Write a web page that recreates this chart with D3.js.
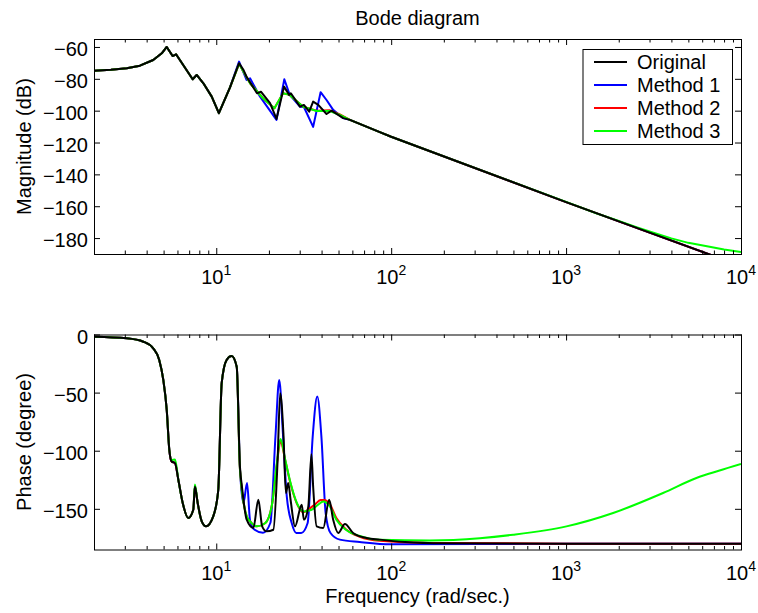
<!DOCTYPE html>
<html>
<head>
<meta charset="utf-8">
<script src="https://cdn.jsdelivr.net/npm/d3@7"></script>
<style>
body { margin: 0; background: #fff; }
text { font-family: "Liberation Sans", Arial, Helvetica, sans-serif; fill: #000; }
</style>
</head>
<body>
<svg id="chart" width="758" height="613"></svg>
<script>
// ---- data (frequency in rad/s, magnitude in dB, phase in degrees) ----
var seriesNames = ["Original", "Method 1", "Method 2", "Method 3"];
var seriesColors = ["#000000", "#0000ff", "#ff0000", "#00ff00"];

// low-frequency magnitude, the same for all four models
var magLowW = [2, 2.5, 3.08, 3.66, 4.36, 4.88, 5.21, 5.63, 5.89, 7.33, 7.73, 8.44, 9.42, 10.35, 11.97];
var magLow  = [-74.9, -74.3, -73.4, -71.75, -68.2, -64.0, -60.0, -65.7, -64.6, -80.3, -77.6, -82.8, -91.2, -101.6, -85.5];

var magOrigW = [13.5, 14.3, 14.9, 17.1, 18.0, 20.3, 22.1, 24.4, 26.1, 26.7, 30.1, 31.7, 34.0, 35.8, 38.3, 42.7, 45.6, 53.2, 58.1, 86.1, 100, 1000, 10000];
var magOrig  = [-70.2, -74.4, -78.7, -89.1, -88.1, -95.3, -105.2, -84.9, -90.1, -89.1, -97.5, -96.4, -100.6, -94.3, -96.4, -102.1, -100.0, -104.7, -105.8, -113.5, -116.4, -157.4, -197.5];

var magM1W = [13.5, 14.9, 15.6, 17.8, 22.1, 24.5, 26.3, 30.1, 31.7, 35.8, 39.5, 42.7, 46.6, 53.2, 58.1, 86.1, 100, 1000, 10000];
var magM1  = [-69.2, -80.7, -79.7, -91.2, -105.8, -80.3, -90.1, -97.5, -97.7, -110.2, -88.4, -93.3, -99.5, -104.7, -105.8, -113.5, -116.4, -157.4, -197.5];

var magM2W = [13.5, 15.6, 18.5, 21.5, 24.1, 26.3, 31.4, 37.5, 44.6, 50.9, 58.1, 86.1, 100, 1000, 10000];
var magM2  = [-70.6, -82.8, -92.2, -98.5, -89.1, -90.1, -97.5, -100.0, -99.8, -102.3, -105.8, -113.5, -116.4, -157.4, -197.5];

var magM3W = [13.5, 15.6, 18.5, 21.5, 24.1, 26.3, 31.4, 37.5, 44.6, 50.9, 58.1, 86.1, 100, 1000, 1500, 2000, 2500, 3000, 4000, 5000, 6500, 8000, 10000];
var magM3  = [-70.6, -82.8, -92.2, -98.5, -89.1, -90.1, -97.5, -100.2, -100.2, -102.7, -105.8, -113.5, -116.4, -157.3, -164.6, -169.2, -173.0, -175.9, -180.2, -183.0, -185.3, -187.2, -188.8];

// low-frequency phase (Original, Method 1, Method 2) and Method 3
var phLowW  = [2, 3.08, 3.83, 4.36, 4.72, 4.98, 5.21, 5.39, 5.56, 5.81, 6.07, 6.43, 6.92, 7.39, 7.55, 7.83, 8.26, 8.74, 9.61, 10.27, 10.74, 11.46, 12.24, 13.09];
var phLow   = [-1.9, -3.3, -6.2, -11.9, -21.9, -39.1, -64.9, -99.2, -109.3, -110.7, -125, -145, -157.9, -150.8, -130.8, -145, -160.8, -165.1, -156.5, -133.6, -41.9, -21.9, -18.5, -27.7];
var phLowM3 = [-1.9, -3.3, -6.2, -11.9, -21.9, -39.1, -64.9, -99.2, -108.0, -107.5, -125, -145, -157.9, -150.8, -129.0, -145, -160.8, -165.1, -156.5, -133.6, -41.9, -21.9, -18.5, -27.7];

var phOrigW = [13.66, 14.02, 14.93, 16.3, 17.4, 18.3, 19.4, 21.2, 22.4, 23.2, 24.2, 25.0, 25.8, 26.6, 28.2, 30.8, 31.7, 33.6, 35.0, 35.8, 37.5, 40.9, 44.2, 46.6, 49.8, 54.4, 60.6, 72.3, 86.1, 120, 200, 1000, 10000];
var phOrig  = [-113.6, -130.8, -159.4, -166.5, -142.2, -165.1, -169.4, -168, -110, -50.5, -84.9, -136.4, -127.8, -142.2, -165.1, -146.5, -159.4, -147.9, -103.0, -130.8, -165.1, -166.5, -142.2, -159.4, -170.8, -163.1, -170.8, -175.1, -176.5, -178.5, -179.6, -180, -180];

var phM1W = [13.66, 14.3, 15.0, 15.6, 16.5, 18.5, 20.4, 21.8, 22.9, 24.1, 25.3, 27.0, 28.7, 30.6, 33.3, 35.6, 37.8, 39.9, 42.2, 45.0, 50.9, 66, 100, 1000, 10000];
var phM1  = [-115, -145, -127.8, -160, -167.8, -170.6, -162, -87.6, -39.1, -87.6, -139.3, -162.2, -170.8, -170.8, -162.2, -87.6, -53.4, -87.6, -153.6, -170.8, -176.5, -178.5, -180.5, -180, -180];

var phM2W = [13.66, 14.93, 15.6, 17.1, 19.1, 20.9, 22.2, 23.3, 24.8, 26.6, 28.9, 31.5, 33.6, 36.5, 39.5, 41.5, 44.6, 48.6, 55.1, 66.2, 86.1, 166, 1000, 10000];
var phM2  = [-116, -156.5, -160.8, -165.1, -162.2, -145, -112, -92, -108.5, -128.5, -145.5, -153, -150.5, -146.5, -142.5, -142.3, -146, -158, -167.5, -174, -177.5, -179.3, -180, -180];

var phM3W = [13.66, 14.93, 15.6, 17.1, 19.1, 20.9, 22.2, 23.3, 24.8, 26.6, 28.9, 31.5, 35.1, 38.2, 40.9, 44.6, 48.6, 55.1, 66.2, 86.1, 166, 321, 498, 1005, 1858, 3585, 5560, 7460, 10000];
var phM3  = [-116, -156.5, -160.8, -165.1, -162.2, -145, -110.6, -90, -107.8, -127.8, -145, -152.2, -150.8, -146.5, -143.6, -147.9, -159.4, -168, -173.4, -176.7, -177.2, -175.3, -172.3, -165.1, -153.6, -136.4, -123.5, -117.3, -111.5];

var magTicks = [-180, -160, -140, -120, -100, -80, -60];
var phaseTicks = [-150, -100, -50, 0];
var decadeTicks = [10, 100, 1000, 10000];

// ---- layout ----
var svg = d3.select("#chart");
var left = 94, right = 741;
var magTop = 39, magBottom = 254;
var phTop = 334.5, phBottom = 549.5;
var fontSize = 20;

var x = d3.scaleLog().domain([2, 10000]).range([left, right]);
var yMag = d3.scaleLinear().domain([-190, -55]).range([magBottom, magTop]);
var yPh = d3.scaleLinear().domain([-185, 0]).range([phBottom, phTop]);

var minorTicks = [];
[1, 10, 100, 1000].forEach(function(d) {
    for (var k = 2; k <= 9; k++) {
        if (d * k >= 2) minorTicks.push(d * k);
    }
});

function pts(w, v) { return d3.zip(w, v); }

var magSeries = [
    pts(magLowW.concat(magOrigW), magLow.concat(magOrig)),
    pts(magLowW.concat(magM1W), magLow.concat(magM1)),
    pts(magLowW.concat(magM2W), magLow.concat(magM2)),
    pts(magLowW.concat(magM3W), magLow.concat(magM3))
];
var phSeries = [
    pts(phLowW.concat(phOrigW), phLow.concat(phOrig)),
    pts(phLowW.concat(phM1W), phLow.concat(phM1)),
    pts(phLowW.concat(phM2W), phLow.concat(phM2)),
    pts(phLowW.concat(phM3W), phLowM3.concat(phM3))
];

var drawOrder = [1, 2, 3, 0];

function panel(id, y, top, bottom, yTicks, series, curve, yLabel) {
    var g = svg.append("g");

    svg.append("clipPath").attr("id", id)
      .append("rect")
        .attr("x", left).attr("y", top)
        .attr("width", right - left).attr("height", bottom - top);

    var line = d3.line()
        .x(function(d) { return x(d[0]); })
        .y(function(d) { return y(d[1]); })
        .curve(curve);

    drawOrder.forEach(function(i) {
        g.append("path")
            .datum(series[i])
            .attr("clip-path", "url(#" + id + ")")
            .attr("fill", "none")
            .attr("stroke", seriesColors[i])
            .attr("stroke-width", 2)
            .attr("stroke-linejoin", "round")
            .attr("d", line);
    });

    // ticks on all four sides, pointing inward
    var axes = [
        [d3.axisBottom(x).tickValues(decadeTicks).tickSize(-6), bottom, 0],
        [d3.axisBottom(x).tickValues(minorTicks).tickSize(-3.5), bottom, 0],
        [d3.axisTop(x).tickValues(decadeTicks).tickSize(-6), top, 0],
        [d3.axisTop(x).tickValues(minorTicks).tickSize(-3.5), top, 0],
        [d3.axisRight(y).tickValues(yTicks).tickSize(-6), 0, right]
    ];
    axes.forEach(function(a) {
        var ax = g.append("g")
            .attr("transform", "translate(" + a[2] + "," + a[1] + ")")
            .call(a[0].tickFormat(""));
        ax.select(".domain").remove();
    });

    var yAxis = g.append("g")
        .attr("transform", "translate(" + left + ",0)")
        .call(d3.axisLeft(y).tickValues(yTicks).tickSize(-6).tickPadding(6));
    yAxis.select(".domain").remove();
    yAxis.selectAll("text")
        .attr("font-size", fontSize)
        .attr("font-family", "Liberation Sans, Arial, sans-serif")
        .attr("dy", "0.43em");

    // decade labels 10^n
    decadeTicks.forEach(function(t) {
        var txt = g.append("text")
            .attr("x", x(t))
            .attr("y", bottom + 30)
            .attr("text-anchor", "middle")
            .attr("font-size", fontSize);
        txt.append("tspan").text("10");
        txt.append("tspan")
            .attr("font-size", 14)
            .attr("dy", -9)
            .text(Math.round(Math.log10(t)));
    });

    g.append("rect")
        .attr("x", left + 0.5).attr("y", top + 0.5)
        .attr("width", right - left).attr("height", bottom - top)
        .attr("fill", "none")
        .attr("stroke", "#000")
        .attr("stroke-width", 1);

    g.append("text")
        .attr("transform", "translate(31," + ((top + bottom) / 2) + ") rotate(-90)")
        .attr("text-anchor", "middle")
        .attr("font-size", fontSize)
        .text(yLabel);

    return g;
}

panel("clipMag", yMag, magTop, magBottom, magTicks, magSeries, d3.curveLinear, "Magnitude (dB)");
panel("clipPh", yPh, phTop, phBottom, phaseTicks, phSeries, d3.curveMonotoneX, "Phase (degree)");

svg.append("text")
    .attr("x", (left + right) / 2)
    .attr("y", 25)
    .attr("text-anchor", "middle")
    .attr("font-size", fontSize)
    .text("Bode diagram");

svg.append("text")
    .attr("x", (left + right) / 2)
    .attr("y", 602.5)
    .attr("text-anchor", "middle")
    .attr("font-size", fontSize)
    .text("Frequency (rad/sec.)");

// legend
var legend = svg.append("g");
legend.append("rect")
    .attr("x", 583).attr("y", 49.5)
    .attr("width", 149.5).attr("height", 95)
    .attr("fill", "#fff")
    .attr("stroke", "#000")
    .attr("stroke-width", 1);
seriesNames.forEach(function(name, i) {
    var cy = 62 + i * 23;
    legend.append("line")
        .attr("x1", 594).attr("x2", 627)
        .attr("y1", cy).attr("y2", cy)
        .attr("stroke", seriesColors[i])
        .attr("stroke-width", 2);
    legend.append("text")
        .attr("x", 637).attr("y", cy + 7)
        .attr("font-size", fontSize)
        .text(name);
});
</script>
</body>
</html>
